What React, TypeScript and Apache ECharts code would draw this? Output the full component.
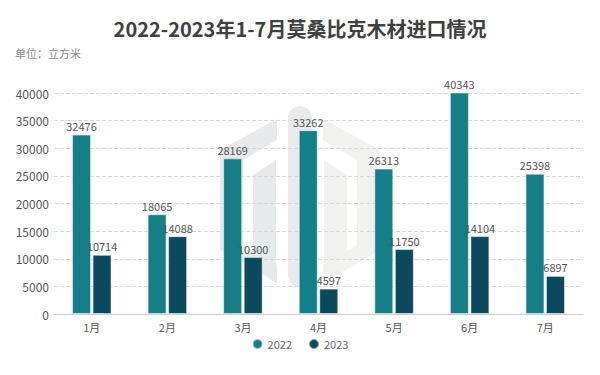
import React, { useEffect, useRef } from "react";
import * as echarts from "echarts";

const categories = ["1月", "2月", "3月", "4月", "5月", "6月", "7月"];
const values2022 = [32476, 18065, 28169, 33262, 26313, 40343, 25398];
const values2023 = [10714, 14088, 10300, 4597, 11750, 14104, 6897];
const seriesNames = ["2022", "2023"];

const leftOuter = [[277, 119], [220, 150], [220, 250], [277, 283], [277, 265], [243, 245], [243, 160], [277, 140]];
const leftInner = [[276, 160], [253, 175], [253, 262], [276, 276]];
const mirror = (pts: number[][]) => pts.map(([x, y]) => [600 - x, y]);

export default function App() {
  const ref = useRef<HTMLDivElement>(null);
  useEffect(() => {
    if (!ref.current) return;
    const chart = echarts.init(ref.current, null, { renderer: "svg" });
    const wmL = "#e6eaea";
    const wmR = "#f1f1ef";
    const labelStyle = { show: true, position: "top", color: "#555", fontSize: 11, distance: 3 };
    const poly = (pts: number[][], fill: string) => ({
      type: "polygon",
      silent: true,
      z: -10,
      shape: { points: pts },
      style: { fill },
    });
    chart.setOption({
      animation: false,
      backgroundColor: "#fff",
      textStyle: { fontFamily: "'Noto Sans CJK SC', 'Noto Sans', sans-serif" },
      title: [
        {
          text: "2022-2023年1-7月莫桑比克木材进口情况",
          left: "center",
          top: 18,
          padding: 0,
          textStyle: { fontSize: 20, fontWeight: "bold", color: "#404040" },
        },
        {
          text: "单位：立方米",
          left: 15,
          top: 47,
          padding: 0,
          textStyle: { fontSize: 11, fontWeight: "normal", color: "#8a8a8a" },
        },
      ],
      graphic: [
        poly(leftOuter, wmL),
        poly(leftInner, wmL),
        {
          type: "rect",
          silent: true,
          z: -10,
          shape: { x: 288, y: 106, width: 24, height: 181, r: 12 },
          style: { fill: "#e8ebeb" },
        },
        poly(mirror(leftOuter), wmR),
        poly(mirror(leftInner), wmR),
      ],
      legend: {
        data: seriesNames,
        bottom: 20,
        left: "center",
        icon: "circle",
        itemWidth: 10,
        itemHeight: 10,
        itemGap: 16,
        textStyle: { color: "#666", fontSize: 11 },
      },
      grid: { left: 54, right: 17, top: 93, bottom: 61 },
      xAxis: {
        type: "category",
        data: categories,
        axisLine: { lineStyle: { color: "#ccc" } },
        axisTick: { alignWithLabel: true, length: 4, lineStyle: { color: "#ccc" } },
        axisLabel: { color: "#555", fontSize: 11, margin: 7 },
      },
      yAxis: {
        type: "value",
        min: 0,
        max: 40000,
        interval: 5000,
        axisLine: { show: false },
        axisTick: { show: false },
        axisLabel: { color: "#555", fontSize: 12, margin: 5, formatter: (v: number) => String(v) },
        splitLine: { lineStyle: { color: "#d8d8d8", type: "dashed" } },
      },
      series: [
        {
          name: seriesNames[0],
          type: "bar",
          data: values2022,
          barWidth: 19,
          barGap: "8%",
          itemStyle: { color: "#167e87", borderColor: "rgba(255,255,255,0.5)", borderWidth: 1 },
          label: labelStyle,
        },
        {
          name: seriesNames[1],
          type: "bar",
          data: values2023,
          barWidth: 19,
          itemStyle: { color: "#0b4a5c", borderColor: "rgba(255,255,255,0.5)", borderWidth: 1 },
          label: labelStyle,
        },
      ],
    });
    return () => chart.dispose();
  }, []);
  return <div ref={ref} style={{ width: 600, height: 375, position: "absolute", left: 0, top: 0 }} />;
}
